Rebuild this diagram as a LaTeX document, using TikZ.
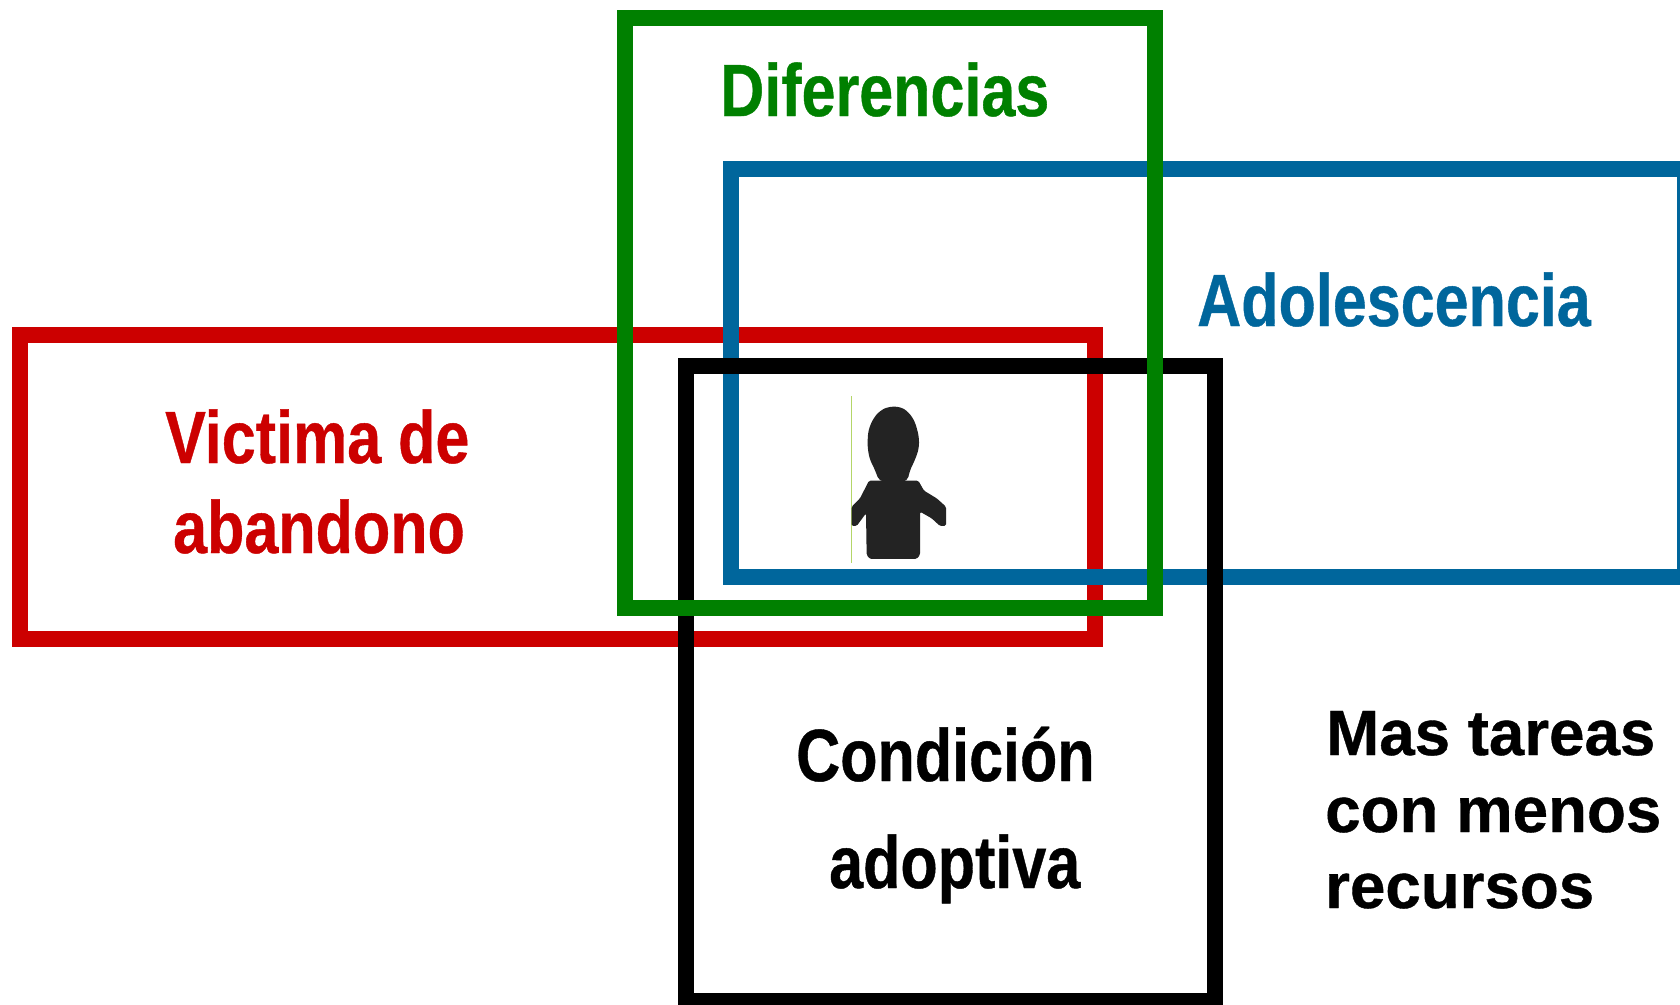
\documentclass[tikz,border=0pt]{standalone}
\usepackage{fontspec}
\setmainfont[BoldFeatures={FakeBold=0.6}]{Liberation Sans}
\definecolor{cgreen}{HTML}{008000}
\definecolor{cblue}{HTML}{00669C}
\definecolor{cred}{HTML}{CC0000}
\definecolor{cfig}{HTML}{232323}
\definecolor{cline}{HTML}{B4D668}
\tikzset{
  frame/.style={line width=16pt,line join=miter},
  lab/.style={font=\bfseries\fontsize{74}{90}\selectfont,inner sep=0pt,anchor=base west,xscale=.825,transform shape},
  labsmall/.style={font=\bfseries\fontsize{64}{77}\selectfont,inner sep=0pt,anchor=base west,align=left,transform shape}
}
\begin{document}
\begin{tikzpicture}[x=1pt,y=-1pt]
\useasboundingbox (0,0) rectangle (1680,1004);
\clip (0,0) rectangle (1680,1004);
\fill[white] (0,0) rectangle (1680,1004);
% frames, lowest first
\draw[frame,cred] (20,335) rectangle (1095,639);
\draw[frame,cblue] (731,169) rectangle (1685,577);
\draw[frame,black] (686,366) rectangle (1215,1001);
\draw[frame,cgreen] (625,18) rectangle (1155,608);
% thin line next to the figure
\draw[cline,line width=1pt] (851.5,396) -- (851.5,563);
% figure
\begin{scope}[shift={(820,370)},x=.3333pt,y=-.3333pt]
\fill[cfig,rounded corners=1.5pt] (95,410) -- (120,385) -- (147,332) -- (295,332) -- (312,362) -- (350,385) -- (378,410) -- (378,468) -- (360,468) -- (335,445) -- (300,425) -- (300,555) -- (290,567) -- (150,567) -- (140,555) -- (138,430) -- (110,468) -- (95,468) -- cycle;
\fill[cfig,rounded corners=5pt] (205,110) -- (240,110) -- (265,125) -- (285,155) -- (297,200) -- (297,235) -- (285,270) -- (270,300) -- (262,335) -- (178,335) -- (165,300) -- (148,265) -- (142,225) -- (145,180) -- (160,145) -- (180,122) -- cycle;
\end{scope}
% labels
\node[lab,text=cgreen] (dif) at (720,116) {Diferencias};
\node[lab,text=cblue] (ado) at (1197,326) {Adolescencia};
\node[lab,text=cred] (vic1) at (165,463) {Victima de};
\node[lab,text=cred] (vic2) at (173,553) {abandono};
\node[lab,text=black] (con1) at (796,781) {Condición};
\node[lab,text=black] (con2) at (829,888) {adoptiva};
\node[labsmall,text=black,xscale=.995] (mas1) at (1326,755) {Mas tareas};
\node[labsmall,text=black,xscale=.995] (mas2) at (1325,832) {con menos};
\node[labsmall,text=black,xscale=.995] (mas3) at (1325,908) {recursos};
\end{tikzpicture}
\end{document}
